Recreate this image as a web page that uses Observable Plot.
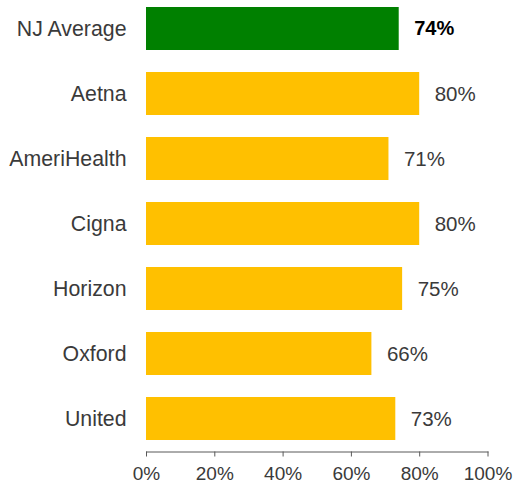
<!DOCTYPE html>
<html>
<head>
<meta charset="utf-8">
<script src="https://cdn.jsdelivr.net/npm/d3@7"></script>
<script src="https://cdn.jsdelivr.net/npm/@observablehq/plot@0.6"></script>
<style>
  body { margin: 0; background: #fff; }
  svg { display: block; }
</style>
</head>
<body>
<div id="chart"></div>
<script>
const categories = ["NJ Average", "Aetna", "AmeriHealth", "Cigna", "Horizon", "Oxford", "United"];
const values = [74, 80, 71, 80, 75, 66, 73];
const xTicks = [0, 20, 40, 60, 80, 100];

const data = categories.map((c, i) => ({name: c, value: values[i], avg: i === 0}));
const avgData = data.filter(d => d.avg);
const otherData = data.filter(d => !d.avg);

const chart = Plot.plot({
  width: 517,
  height: 487,
  marginLeft: 146,
  marginRight: 29.5,
  marginTop: 0,
  marginBottom: 35.5,
  style: {fontFamily: "'Liberation Sans', Arial, sans-serif", background: "#fff"},
  x: {domain: [0, 100], ticks: xTicks, tickFormat: d => d + "%", label: null, axis: null},
  y: {domain: categories, label: null, axis: null, paddingInner: 0.338, paddingOuter: 0.142, align: 0.378},
  marks: [
    Plot.barX(data, {x: "value", y: "name", fill: d => d.avg ? "#008000" : "#FFC000"}),
    Plot.text(otherData, {x: "value", y: "name", text: d => d.value + "%", textAnchor: "start", dx: 15,
      fontSize: 20.5, fill: "#3a3a3a"}),
    Plot.text(avgData, {x: "value", y: "name", text: d => d.value + "%", textAnchor: "start", dx: 15,
      fontSize: 20, fill: "#000", fontWeight: "bold"}),
    Plot.axisY({tickSize: 0, tickPadding: 20, fontSize: 21.3, color: "#3a3a3a", label: null}),
    Plot.axisX({ticks: xTicks, tickFormat: d => d + "%", tickSize: 5, tickPadding: 9, fontSize: 19, color: "#3a3a3a", stroke: "#595959", label: null}),
    Plot.frame({anchor: "bottom", stroke: "#595959"})
  ]
});
document.getElementById("chart").appendChild(chart);
</script>
</body>
</html>
